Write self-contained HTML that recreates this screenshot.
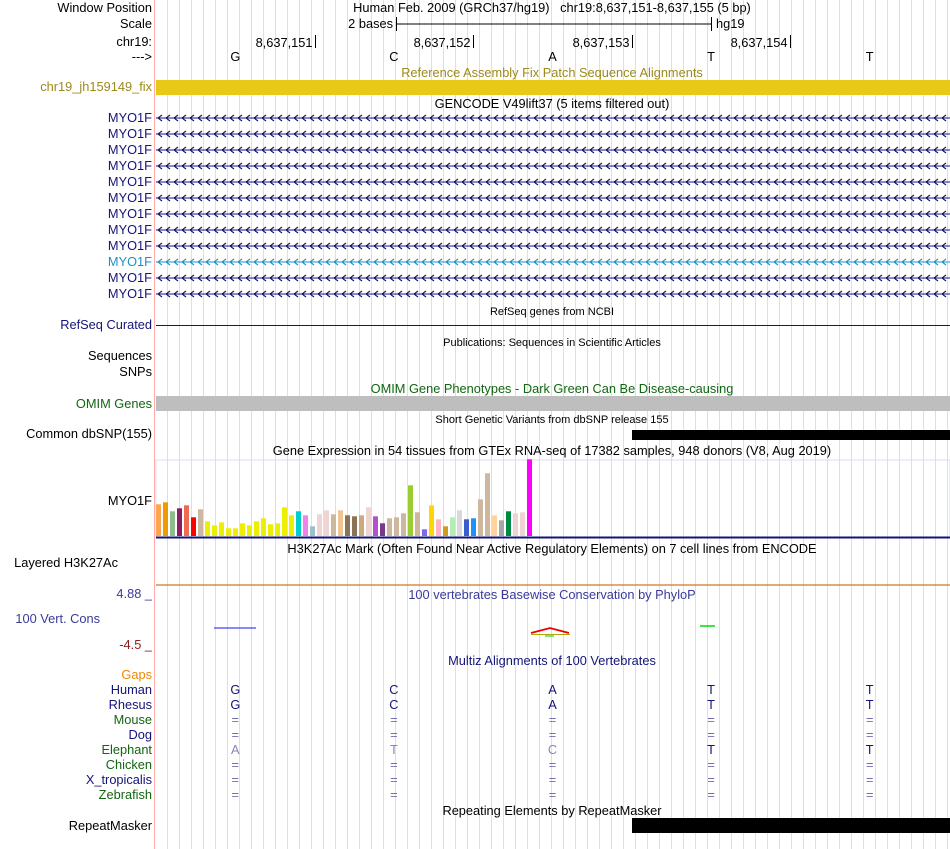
<!DOCTYPE html>
<html><head><meta charset="utf-8"><style>
html,body{margin:0;padding:0;background:#fff;}
svg{display:block;font-family:"Liberation Sans",sans-serif;}
</style></head><body>
<svg id="c" width="950" height="849" viewBox="0 0 950 849" xmlns="http://www.w3.org/2000/svg">
<g id="grid"></g>
<line x1="154.5" y1="0" x2="154.5" y2="849" stroke="#ffaaaa" stroke-width="1"/>
<g font-size="12.8" text-anchor="end" fill="#000">
<text x="152" y="12">Window Position</text>
<text x="152" y="28">Scale</text>
<text x="152" y="46">chr19:</text>
<text x="152" y="61">---&gt;</text>
<text x="152" y="91" fill="#9c8a1a">chr19_jh159149_fix</text>
<text x="152" y="329" fill="#141478">RefSeq Curated</text>
<text x="152" y="360">Sequences</text>
<text x="152" y="376">SNPs</text>
<text x="152" y="408" fill="#116611">OMIM Genes</text>
<text x="152" y="438">Common dbSNP(155)</text>
<text x="152" y="505">MYO1F</text>
<text x="118" y="567">Layered H3K27Ac</text>
<text x="152" y="598" fill="#3a3a9a">4.88 _</text>
<text x="100" y="623" fill="#3a3a9a">100 Vert. Cons</text>
<text x="152" y="649" fill="#8b2020">-4.5 _</text>
<text x="152" y="679" fill="#ee8800">Gaps</text>
<text x="152" y="694" fill="#141478">Human</text>
<text x="152" y="709" fill="#141478">Rhesus</text>
<text x="152" y="724" fill="#116611">Mouse</text>
<text x="152" y="739" fill="#141478">Dog</text>
<text x="152" y="754" fill="#116611">Elephant</text>
<text x="152" y="769" fill="#116611">Chicken</text>
<text x="152" y="784" fill="#141478">X_tropicalis</text>
<text x="152" y="799" fill="#116611">Zebrafish</text>
<text x="152" y="830">RepeatMasker</text>
</g>
<g id="gencodeLabels" font-size="12.8" text-anchor="end" fill="#141478"></g>
<g font-size="12.8" text-anchor="middle">
<text x="552" y="12">Human Feb. 2009 (GRCh37/hg19)&#160;&#160;&#160;chr19:8,637,151-8,637,155 (5 bp)</text>
<text x="552" y="77" fill="#9c8a1a">Reference Assembly Fix Patch Sequence Alignments</text>
<text x="552" y="108">GENCODE V49lift37 (5 items filtered out)</text>
<text x="552" y="315" font-size="11">RefSeq genes from NCBI</text>
<text x="552" y="346" font-size="11">Publications: Sequences in Scientific Articles</text>
<text x="552" y="393" fill="#116611">OMIM Gene Phenotypes - Dark Green Can Be Disease-causing</text>
<text x="552" y="423" font-size="11">Short Genetic Variants from dbSNP release 155</text>
<text x="552" y="455">Gene Expression in 54 tissues from GTEx RNA-seq of 17382 samples, 948 donors (V8, Aug 2019)</text>
<text x="552" y="553">H3K27Ac Mark (Often Found Near Active Regulatory Elements) on 7 cell lines from ENCODE</text>
<text x="552" y="599" fill="#3a3a9a">100 vertebrates Basewise Conservation by PhyloP</text>
<text x="552" y="665" fill="#141478">Multiz Alignments of 100 Vertebrates</text>
<text x="552" y="815">Repeating Elements by RepeatMasker</text>
</g>
<g>
<text x="393" y="28" font-size="12.8" text-anchor="end">2 bases</text>
<line x1="396" y1="24" x2="711" y2="24" stroke="#000"/>
<line x1="396.5" y1="17" x2="396.5" y2="31" stroke="#000"/>
<line x1="711.5" y1="17" x2="711.5" y2="31" stroke="#000"/>
<text x="716" y="28" font-size="12.8">hg19</text>
</g>
<g id="ruler" font-size="12.8" text-anchor="end"></g>
<g id="bases" font-size="12.8" text-anchor="middle"></g>
<rect x="156" y="80" width="794" height="15" fill="#e8c917"/>
<g id="gencode"></g>
<line x1="156" y1="325.5" x2="950" y2="325.5" stroke="#141478"/>
<rect x="156" y="396" width="794" height="15" fill="#bebebe"/>
<rect x="632" y="430" width="318" height="10" fill="#000"/>
<rect x="156" y="460" width="794" height="77" fill="none" stroke="#ddddee" stroke-width="1"/>
<g id="gtex"></g>
<line x1="156" y1="537.5" x2="950" y2="537.5" stroke="#141478" stroke-width="2"/>
<line x1="156" y1="585" x2="950" y2="585" stroke="#d07820" stroke-width="1.2"/>
<g>
<line x1="214" y1="628" x2="256" y2="628" stroke="#4444ee" stroke-width="1.2"/>
<polyline points="531,633 550,628 569,633" fill="none" stroke="#ee0000" stroke-width="1.8"/>
<line x1="531" y1="634.5" x2="570" y2="634.5" stroke="#aaaa00" stroke-width="1"/>
<line x1="545" y1="636" x2="554" y2="636" stroke="#00cc00" stroke-width="1"/>
<line x1="700" y1="626" x2="715" y2="626" stroke="#00dd00" stroke-width="1.5"/>
</g>
<g id="multiz" font-size="12.8" text-anchor="middle"></g>
<rect x="632" y="818" width="318" height="15" fill="#000"/>
</svg>
<script>
var NS="http://www.w3.org/2000/svg";
function mk(tag,attrs,parent,txt){var e=document.createElementNS(NS,tag);for(var k in attrs)e.setAttribute(k,attrs[k]);if(txt!==undefined)e.textContent=txt;parent.appendChild(e);return e;}
var baseLetters=["G","C","A","T","T"];
var rulerLabels=["8,637,151","8,637,152","8,637,153","8,637,154"];
var gtexValues=[31.7,33.7,24.7,27.7,30.7,18.7,26.7,14.7,10.7,13.7,7.7,7.7,12.7,10.7,14.7,17.7,11.7,12.7,28.7,20.7,24.7,20.7,9.7,21.7,25.7,21.7,25.7,20.7,19.7,20.7,28.7,19.7,12.7,17.7,18.7,22.7,50.7,23.7,6.7,30.7,16.7,9.7,18.7,25.7,16.7,17.7,36.7,62.7,20.7,15.7,24.7,22.7,23.7,76.7];
var gtexColors=["#ffa54f","#ee9a00","#8fbc8f","#8b1c62","#ee6a50","#ff0000","#cdb79e","#eeee00","#eeee00","#eeee00","#eeee00","#eeee00","#eeee00","#eeee00","#eeee00","#eeee00","#eeee00","#eeee00","#eeee00","#eeee00","#00cdcd","#ee82ee","#9ac0cd","#eed5d2","#eed5d2","#cdb79e","#eec591","#8b7355","#8b7355","#cdaa7d","#eed5d2","#b452cd","#7a378b","#cdb79e","#cdb79e","#cdb79e","#9acd32","#cdb79e","#7b68ee","#ffd700","#ffb6c1","#cd9b1d","#b4eeb4","#d9d9d9","#3a5fcd","#1e90ff","#cdb79e","#cdb79e","#ffd39b","#a6a6a6","#008b45","#eed5d2","#eed5d2","#ff00ff"];
var species=["Human","Rhesus","Mouse","Dog","Elephant","Chicken","X_tropicalis","Zebrafish"];
var speciesBases=[["G","C","A","T","T"],["G","C","A","T","T"],["=","=","=","=","="],["=","=","=","=","="],["A","T","C","T","T"],["=","=","=","=","="],["=","=","=","=","="],["=","=","=","=","="]];
var elephantDiff=[true,true,true,false,false];
var X0=156,X1=950,nBases=5,bw=(X1-X0-1)/nBases;
function baseX(i){return X0+bw*(i+0.5);}
function baseEdge(i){return X0+bw*i;}
var gtexBase=536,gtexScale=1;
function gx(i){return 156+7*i;}
function gy(v){return gtexBase-v*gtexScale;}
var grid=document.getElementById('grid');
for(var x=167.5;x<950;x+=12){var l=mk('line',{x1:x,y1:0,x2:x,y2:849,stroke:'#dcdcf4','stroke-width':1},grid);

}
var ruler=document.getElementById('ruler');
for(var i=0;i<rulerLabels.length;i++){var ex=Math.round(baseEdge(i+1))+0.5;
var t=mk('text',{x:ex-3,y:47},ruler,rulerLabels[i]);


var tk=mk('line',{x1:ex,y1:35,x2:ex,y2:48,stroke:'#000'},ruler);

}
var bases=document.getElementById('bases');
for(var i=0;i<baseLetters.length;i++){var b=mk('text',{x:baseX(i),y:61},bases,baseLetters[i]);

}
var gl=document.getElementById('gencodeLabels'),gc=document.getElementById('gencode');
for(var r=0;r<12;r++){var y=118+16*r;var col=(r==9)?'#1e90c8':'#141478';
var lab=mk('text',{x:152,y:y+4,fill:col},gl,'MYO1F');


var g=mk('g',{stroke:col,fill:'none','stroke-width':1.1},gc);


mk('line',{x1:156,y1:y,x2:950,y2:y},g);
var d='';for(var ax=158;ax<950;ax+=8){d+='M'+(ax+4)+' '+(y-3)+'L'+ax+' '+y+'L'+(ax+4)+' '+(y+3);}
mk('path',{d:d},g);}
var gt=document.getElementById('gtex');
for(var i=0;i<gtexValues.length;i++){var barTop=gy(gtexValues[i]);
var rc=mk('rect',{x:gx(i),y:barTop,width:5,height:gtexBase-barTop,fill:gtexColors[i]},gt);

}
var mz=document.getElementById('multiz');
for(var s=0;s<species.length;s++){var y2=694+15*s;
for(var i=0;i<5;i++){var ch=speciesBases[s][i];var col2;
if(s<2)col2='#141478';else if(ch=='=')col2='#7070b0';else if(s==4&&elephantDiff[i])col2='#8888b0';else col2='#141478';
var t2=mk('text',{x:baseX(i),y:y2,fill:col2},mz,ch);

}}
</script>
</body></html>
